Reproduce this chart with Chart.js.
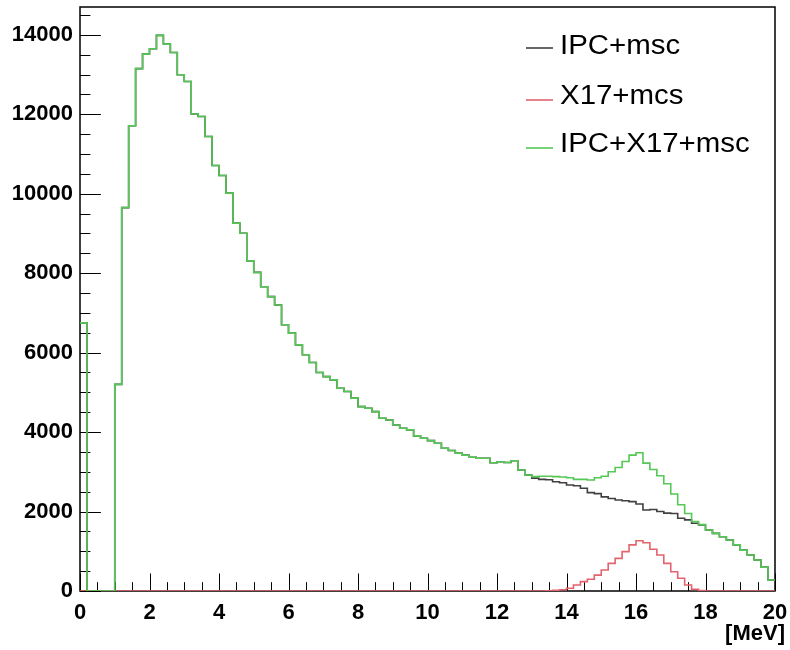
<!DOCTYPE html>
<html>
<head>
<meta charset="utf-8">
<script src="https://cdn.jsdelivr.net/npm/chart.js@4.4.1/dist/chart.umd.min.js"></script>
<style>
    html, body { margin: 0; padding: 0; background: #fff; }
</style>
</head>
<body>
<canvas id="histChart" width="790" height="650"></canvas>
<script>
    // 100 bins of 0.2 MeV from 0 to 20 MeV
    const binStart = 0;
    const binWidth = 0.2;

    const xTickLabels = [0, 2, 4, 6, 8, 10, 12, 14, 16, 18, 20];
    const yTickLabels = [0, 2000, 4000, 6000, 8000, 10000, 12000, 14000];
    const xAxisTitle = '[MeV]';

    const seriesNames = ['IPC+msc', 'X17+mcs', 'IPC+X17+msc'];

    const ipcMsc = [
        6750, 0, 0, 0, 0, 5200, 9650, 11710, 13150, 13515,
        13650, 13985, 13765, 13555, 12995, 12825, 12005, 11945, 11440, 10710,
        10460, 10015, 9260, 9005, 8310, 8020, 7660, 7410, 7200, 6700,
        6490, 6195, 5945, 5750, 5500, 5395, 5315, 5105, 5020, 4855,
        4640, 4600, 4515, 4350, 4305, 4180, 4095, 4055, 3905, 3845,
        3785, 3720, 3595, 3535, 3470, 3420, 3365, 3340, 3340, 3230,
        3255, 3235, 3280, 3045, 2920, 2840, 2810, 2800, 2750, 2725,
        2670, 2650, 2585, 2475, 2450, 2370, 2330, 2290, 2270, 2250,
        2190, 2040, 2050, 2000, 1960, 1950, 1830, 1790, 1705, 1660,
        1535, 1450, 1365, 1285, 1160, 1030, 905, 780, 600, 275
    ];

    const x17Mcs = [
        0, 0, 0, 0, 0, 0, 0, 0, 0, 0,
        0, 0, 0, 0, 0, 0, 0, 0, 0, 0,
        0, 0, 0, 0, 0, 0, 0, 0, 0, 0,
        0, 0, 0, 0, 0, 0, 0, 0, 0, 0,
        0, 0, 0, 0, 0, 0, 0, 0, 0, 0,
        0, 0, 0, 0, 0, 0, 0, 0, 0, 0,
        0, 0, 0, 0, 0, 0, 0, 5, 15, 30,
        70, 150, 235, 295, 400, 530, 695, 820, 990, 1160,
        1265, 1215, 1050, 905, 695, 485, 320, 150, 40, 10,
        0, 0, 0, 0, 0, 0, 0, 0, 0, 0
    ];

    const ipcX17Msc = [
        6750, 0, 0, 0, 0, 5200, 9650, 11710, 13150, 13515,
        13650, 13985, 13765, 13555, 12995, 12825, 12005, 11945, 11440, 10710,
        10460, 10015, 9260, 9005, 8310, 8020, 7660, 7410, 7200, 6700,
        6490, 6195, 5945, 5750, 5500, 5395, 5315, 5105, 5020, 4855,
        4640, 4600, 4515, 4350, 4305, 4180, 4095, 4055, 3905, 3845,
        3785, 3720, 3595, 3535, 3470, 3420, 3365, 3340, 3340, 3230,
        3255, 3235, 3280, 3045, 2920, 2880, 2890, 2890, 2880, 2870,
        2850, 2810, 2810, 2795, 2850, 2890, 3000, 3110, 3260, 3420,
        3480, 3220, 3060, 2900, 2700, 2440, 2170, 1950, 1750, 1670,
        1535, 1450, 1365, 1285, 1160, 1030, 905, 780, 600, 275
    ];

    const font = "'Liberation Sans', Arial, Helvetica, sans-serif";

    // histogram -> points at the low edge of each bin, plus the closing edge
    function toSteps(values) {
        const pts = values.map((v, i) => ({ x: binStart + i * binWidth, y: v }));
        pts.push({ x: binStart + values.length * binWidth, y: values[values.length - 1] });
        return pts;
    }

    // ROOT-like frame with ticks pointing inwards
    const rootFrame = {
        id: 'rootFrame',
        beforeDatasetsDraw(chart) {
            const { ctx, chartArea: a, scales: { x, y } } = chart;
            ctx.save();
            ctx.strokeStyle = '#000';
            ctx.lineWidth = 1;
            ctx.beginPath();
            for (let k = 0; k <= 40; k++) {
                const px = Math.round(x.getPixelForValue(k * 0.5)) + 0.5;
                const len = k % 4 === 0 ? 17.5 : 8.8;
                ctx.moveTo(px, a.bottom);
                ctx.lineTo(px, a.bottom - len);
            }
            for (let k = 0; k * 500 <= y.max; k++) {
                const py = Math.round(y.getPixelForValue(k * 500)) + 0.5;
                const len = k % 4 === 0 ? 20.9 : 10.4;
                ctx.moveTo(a.left, py);
                ctx.lineTo(a.left + len, py);
            }
            ctx.stroke();
            ctx.lineWidth = 1.5;
            ctx.strokeRect(a.left, a.top, a.right - a.left, a.bottom - a.top);
            ctx.restore();
        }
    };

    // legend without a box in the upper right of the frame, and the axis unit
    const rootLegend = {
        id: 'rootLegend',
        afterDraw(chart) {
            const ctx = chart.ctx;
            const rows = [
                { textY: 47, lineY: 48 },
                { textY: 97, lineY: 100 },
                { textY: 145, lineY: 148 }
            ];
            ctx.save();
            chart.data.datasets.forEach((ds, i) => {
                ctx.strokeStyle = ds.borderColor;
                ctx.lineWidth = 1.6;
                ctx.beginPath();
                ctx.moveTo(526, rows[i].lineY);
                ctx.lineTo(553, rows[i].lineY);
                ctx.stroke();
                ctx.save();
                ctx.translate(560, rows[i].textY);
                ctx.scale(1.09, 1);
                ctx.fillStyle = '#000';
                ctx.font = "27px " + font;
                ctx.textBaseline = 'middle';
                ctx.fillText(ds.label, 0, 0);
                ctx.restore();
            });
            ctx.fillStyle = '#000';
            ctx.font = "bold 22px " + font;
            ctx.textAlign = 'right';
            ctx.textBaseline = 'middle';
            ctx.fillText(xAxisTitle, 785, 634);
            ctx.restore();
        }
    };

    const ctx = document.getElementById('histChart').getContext('2d');
    new Chart(ctx, {
        type: 'line',
        data: {
            datasets: [
                {
                    label: seriesNames[0],
                    data: toSteps(ipcMsc),
                    borderColor: '#404040',
                    order: 3
                },
                {
                    label: seriesNames[1],
                    data: toSteps(x17Mcs),
                    borderColor: '#e2646e',
                    order: 2
                },
                {
                    label: seriesNames[2],
                    data: toSteps(ipcX17Msc),
                    borderColor: '#55c855',
                    order: 1
                }
            ]
        },
        options: {
            responsive: false,
            animation: false,
            devicePixelRatio: 1,
            datasets: {
                line: {
                    stepped: true,
                    borderWidth: 1.6,
                    pointRadius: 0,
                    fill: false
                }
            },
            layout: { padding: { top: 7, right: 15, left: 0, bottom: 0 } },
            plugins: {
                legend: { display: false },
                tooltip: { enabled: false }
            },
            scales: {
                x: {
                    type: 'linear',
                    min: 0,
                    max: 20,
                    afterBuildTicks: s => { s.ticks = xTickLabels.map(v => ({ value: v })); },
                    afterFit: s => { s.height = 59; s.paddingLeft = 0; s.paddingRight = 0; },
                    grid: { display: false, drawTicks: false },
                    border: { display: false },
                    ticks: {
                        color: '#000',
                        padding: 9,
                        maxRotation: 0,
                        autoSkip: false,
                        callback: v => String(v),
                        font: { family: font, size: 22, weight: 'bold' }
                    }
                },
                y: {
                    min: 0,
                    max: 14700,
                    afterBuildTicks: s => { s.ticks = yTickLabels.map(v => ({ value: v })); },
                    afterFit: s => { s.width = 80; s.paddingTop = 0; s.paddingBottom = 0; },
                    grid: { display: false, drawTicks: false },
                    border: { display: false },
                    ticks: {
                        color: '#000',
                        padding: 7,
                        callback: v => String(v),
                        font: { family: font, size: 22, weight: 'bold' }
                    }
                }
            }
        },
        plugins: [rootFrame, rootLegend]
    });
</script>
</body>
</html>
